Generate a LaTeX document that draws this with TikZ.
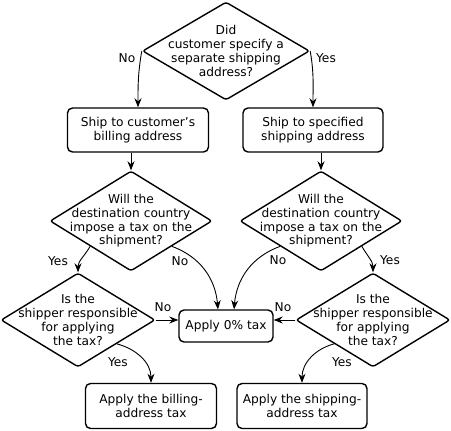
\documentclass[tikz,border=0pt]{standalone}
\usepackage{fontspec}
\setmainfont{DejaVu Sans}
\usetikzlibrary{shapes,arrows.meta}

\begin{document}
\begin{tikzpicture}[x = 1pt, y = 1pt,
	every node/.style = {font = \fontsize{12.2}{13.7}\selectfont},
	decision/.style = {draw = black,
					   shape = diamond,
					   line width = 1.4pt,
					   rounded corners = 2.5pt,
					   inner sep = 0pt},
	action/.style = {draw = black,
					 shape = rectangle,
					 line width = 1.4pt,
					 rounded corners = 5pt,
					 align = center,
					 inner sep = 0pt},
	qtext/.style = {align = center, inner sep = 0pt},
	flow/.style = {-{Stealth[length = 9pt, width = 7pt]}, line width = 0.9pt},
	lbl/.style = {inner sep = 0pt}]

	\useasboundingbox (0,0) rectangle (451,431);

	\node[decision,
		  minimum width = 167pt,
		  minimum height = 98pt,
		  label = {[qtext]center:{Did\\customer specify a\\separate shipping\\address?}}](q0) at (226,380){};

	\node[action,
		  minimum width = 141pt,
		  minimum height = 44pt](ship1) at (138,301){Ship to customer's\\billing address};
	\node[action,
		  minimum width = 140pt,
		  minimum height = 44pt](ship2) at (313,301){Ship to specified\\shipping address};

	\node[decision,
		  minimum width = 162pt,
		  minimum height = 100pt,
		  label = {[qtext]center:{Will the\\destination country\\impose a tax on the\\shipment?}}](tax1) at (131,210){};
	\node[decision,
		  minimum width = 162pt,
		  minimum height = 100pt,
		  label = {[qtext]center:{Will the\\destination country\\impose a tax on the\\shipment?}}](tax2) at (321,210){};

	\node[decision,
		  minimum width = 154pt,
		  minimum height = 94pt,
		  label = {[qtext]center:{Is the\\shipper responsible\\for applying\\the tax?}}](resp1) at (78,111){};
	\node[decision,
		  minimum width = 154pt,
		  minimum height = 94pt,
		  label = {[qtext]center:{Is the\\shipper responsible\\for applying\\the tax?}}](resp2) at (373,111){};

	\node[action,
		  minimum width = 94pt,
		  minimum height = 32pt](zero) at (226,105){Apply 0\% tax};

	\node[action,
		  minimum width = 131pt,
		  minimum height = 45pt](bill) at (151,25){Apply the billing-\\address tax};
	\node[action,
		  minimum width = 130pt,
		  minimum height = 45pt](shipt) at (302,25){Apply the shipping-\\address tax};

	\draw[flow] (q0.west) to[out = -100, in = 90] (ship1.north);
	\draw[flow] (q0.east) to[out = -80, in = 90] (ship2.north);

	\draw[flow] (ship1.south -| tax1.north) -- (tax1.north);
	\draw[flow] (ship2.south -| tax2.north) -- (tax2.north);

	\draw[flow] (tax1.south west) to[out = -120, in = 90] (resp1.north);
	\draw[flow] (tax1.south east) to[out = -20, in = 95] ([xshift = -8pt]zero.north);
	\draw[flow] (tax2.south west) to[out = -160, in = 85] ([xshift = 8pt]zero.north);
	\draw[flow] (tax2.south east) to[out = -60, in = 90] (resp2.north);

	\draw[flow] (resp1.east) -- (resp1.east -| zero.west);
	\draw[flow] (resp2.west) -- (resp2.west -| zero.east);

	\draw[flow] (resp1.south east) to[out = -15, in = 90] (bill.north);
	\draw[flow] (resp2.south west) to[out = -165, in = 90] (shipt.north);

	\node[lbl](no0) at (127,373){No};
	\node[lbl](yes0) at (326,373){Yes};
	\node[lbl](yes1) at (58,170){Yes};
	\node[lbl](no1) at (180,170){No};
	\node[lbl](no2) at (278,171){No};
	\node[lbl](yes2) at (390,171){Yes};
	\node[lbl](no3) at (163,124){No};
	\node[lbl](no4) at (283,124){No};
	\node[lbl](yes3) at (118,69){Yes};
	\node[lbl](yes4) at (342,69){Yes};

\end{tikzpicture}
\end{document}
